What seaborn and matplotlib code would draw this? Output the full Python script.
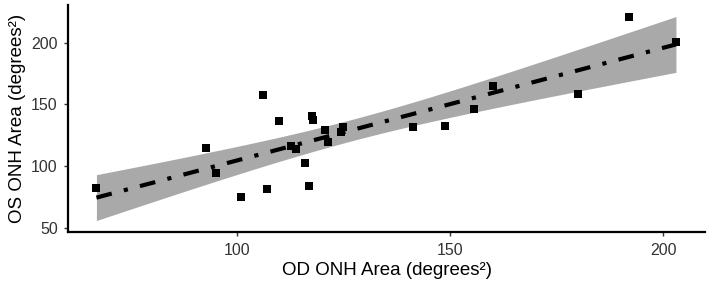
import matplotlib
matplotlib.use("Agg")
import matplotlib.pyplot as plt
import seaborn as sns
import numpy as np
import pandas as pd

od_area = [67.1, 92.7, 95.1, 101.1, 106.1, 107.2, 110.0, 112.8, 114.0, 115.9,
           116.9, 117.7, 117.8, 120.6, 121.3, 124.5, 125.0, 141.4, 148.9, 155.7,
           160.0, 180.0, 191.9, 203.0]
os_area = [81.9, 114.9, 94.5, 74.9, 157.4, 81.8, 136.3, 116.3, 113.8, 102.7,
           84.3, 140.7, 137.5, 129.2, 119.6, 128.0, 131.5, 131.6, 132.4, 146.0,
           165.1, 158.1, 221.3, 200.5]
x_ticks = [100, 150, 200]
y_ticks = [50, 100, 150, 200]

df = pd.DataFrame({"od": od_area, "os": os_area})

sns.set_style("white")
plt.rcParams["font.family"] = ["Liberation Sans", "DejaVu Sans"]

fig = plt.figure(figsize=(7.09, 2.81), dpi=100)
ax = fig.add_axes([0.0963, 0.173, 0.898, 0.809])

# analytic 95% confidence band of the linear fit (as in ggplot geom_smooth)
x = np.asarray(od_area)
y = np.asarray(os_area)
n = len(x)
b1, b0 = np.polyfit(x, y, 1)
resid = y - (b0 + b1 * x)
s_err = np.sqrt(np.sum(resid ** 2) / (n - 2))
t_crit = 2.074  # t(0.975, df=22)
grid = np.linspace(x.min(), x.max(), 200)
fit = b0 + b1 * grid
se = s_err * np.sqrt(1 / n + (grid - x.mean()) ** 2 / np.sum((x - x.mean()) ** 2))
ax.fill_between(grid, fit - t_crit * se, fit + t_crit * se, color="#a9a9a9",
                lw=0, zorder=2)

sns.regplot(data=df, x="od", y="os", ax=ax, ci=None, truncate=True,
            marker="s",
            scatter_kws=dict(color="black", s=30, linewidths=0, zorder=4, alpha=1),
            line_kws=dict(color="black", lw=3.0, linestyle=(0, (3.8, 3, 1, 3)),
                          dash_capstyle="butt", zorder=3))

ax.set_xlim(60.5, 209.8)
ax.set_ylim(46.3, 230.6)
ax.set_xticks(x_ticks)
ax.set_yticks(y_ticks)
ax.set_xlabel("OD ONH Area (degrees²)", fontsize=13.5, color="black", labelpad=3)
ax.set_ylabel("OS ONH Area (degrees²)", fontsize=13.5, color="black", labelpad=4)
ax.tick_params(axis="both", labelsize=11.5, colors="#333333", length=3, width=1,
               direction="out", pad=4.5)
ax.tick_params(axis="both", which="both", bottom=True, left=True)
for s in ["top", "right"]:
    ax.spines[s].set_visible(False)
for s in ["left", "bottom"]:
    ax.spines[s].set_color("black")
    ax.spines[s].set_linewidth(1.6)

fig.savefig("out.png", dpi=100)
